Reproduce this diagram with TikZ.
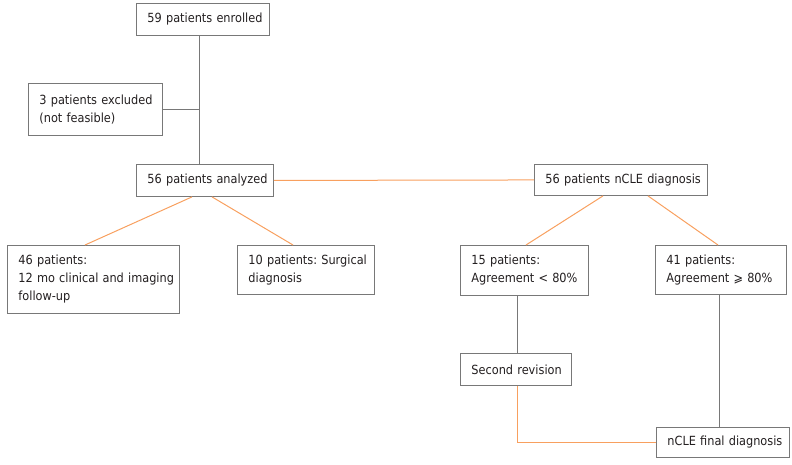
\documentclass[tikz,border=0pt]{standalone}
\usepackage{fontspec}
\setmainfont{DejaVu Sans Condensed}
\newcommand{\nbl}[1]{\mbox{#1}}
\newcommand{\boxfont}{\fontsize{12.6}{18}\selectfont}
\hbadness=10000
\hfuzz=60pt
\frenchspacing
\begin{document}
\definecolor{boxline}{RGB}{120,120,120}
\definecolor{orangeline}{RGB}{248,160,95}
\definecolor{txt}{RGB}{35,31,32}
\begin{tikzpicture}[x=1pt,y=-1pt,
  box/.style={draw=boxline, line width=0.9pt, rectangle, anchor=north west,
    inner xsep=11pt, inner ysep=3pt, align=left, text=txt,
    font=\boxfont},
  gline/.style={draw=boxline, line width=0.9pt},
  oline/.style={draw=orangeline, line width=1pt}]
\useasboundingbox (0,0) rectangle (792,465);
\node[box, text width=111pt, minimum height=32pt] (b1) at (136,3) {\nbl{59 patients enrolled}};
\node[box, text width=112pt, minimum height=52pt] (ex) at (28,83) {\nbl{3 patients excluded}\\\nbl{(not feasible)}};
\node[box, text width=115pt, minimum height=32pt] (an) at (136,164) {\nbl{56 patients analyzed}};
\node[box, text width=151pt, minimum height=31pt] (nc) at (534,164) {\nbl{56 patients nCLE diagnosis}};
\node[box, text width=150pt, minimum height=68pt] (b46) at (7,245) {\nbl{46 patients:}\\\nbl{12 mo clinical and imaging}\\\nbl{follow-up}};
\node[box, text width=115pt, minimum height=49pt] (b10) at (237,245) {\nbl{10 patients: Surgical}\\\nbl{diagnosis}};
\node[box, text width=106pt, minimum height=50pt] (b15) at (460,245) {\nbl{15 patients:}\\\nbl{Agreement < 80\%}};
\node[box, text width=109pt, minimum height=49pt] (b41) at (655,245) {\nbl{41 patients:}\\\nbl{Agreement ⩾ 80\%}};
\node[box, text width=89pt, minimum height=32pt] (sr) at (460,353) {\nbl{Second revision}};
\node[box, text width=111pt, minimum height=30pt] (fin) at (656,427) {\nbl{nCLE final diagnosis}};
\coordinate (spine) at (199.5,0);
\draw[gline] (b1.south -| spine) -- (an.north -| spine);
\draw[gline] (ex.east) -- (ex.east -| spine);
\draw[oline] (an.east) -- (nc.west);
\draw[oline] ([xshift=56pt]an.south west) -- ([xshift=78pt]b46.north west);
\draw[oline] ([xshift=76pt]an.south west) -- ([xshift=56pt]b10.north west);
\draw[oline] ([xshift=69pt]nc.south west) -- ([xshift=66pt]b15.north west);
\draw[oline] ([xshift=114pt]nc.south west) -- ([xshift=63pt]b41.north west);
\draw[gline] ([xshift=57pt]b15.south west) -- ([xshift=57pt]sr.north west);
\draw[oline] ([xshift=57pt]sr.south west) |- (fin.west);
\draw[gline] ([xshift=64pt]b41.south west) -- ([xshift=63pt]fin.north west);
\end{tikzpicture}
\end{document}
